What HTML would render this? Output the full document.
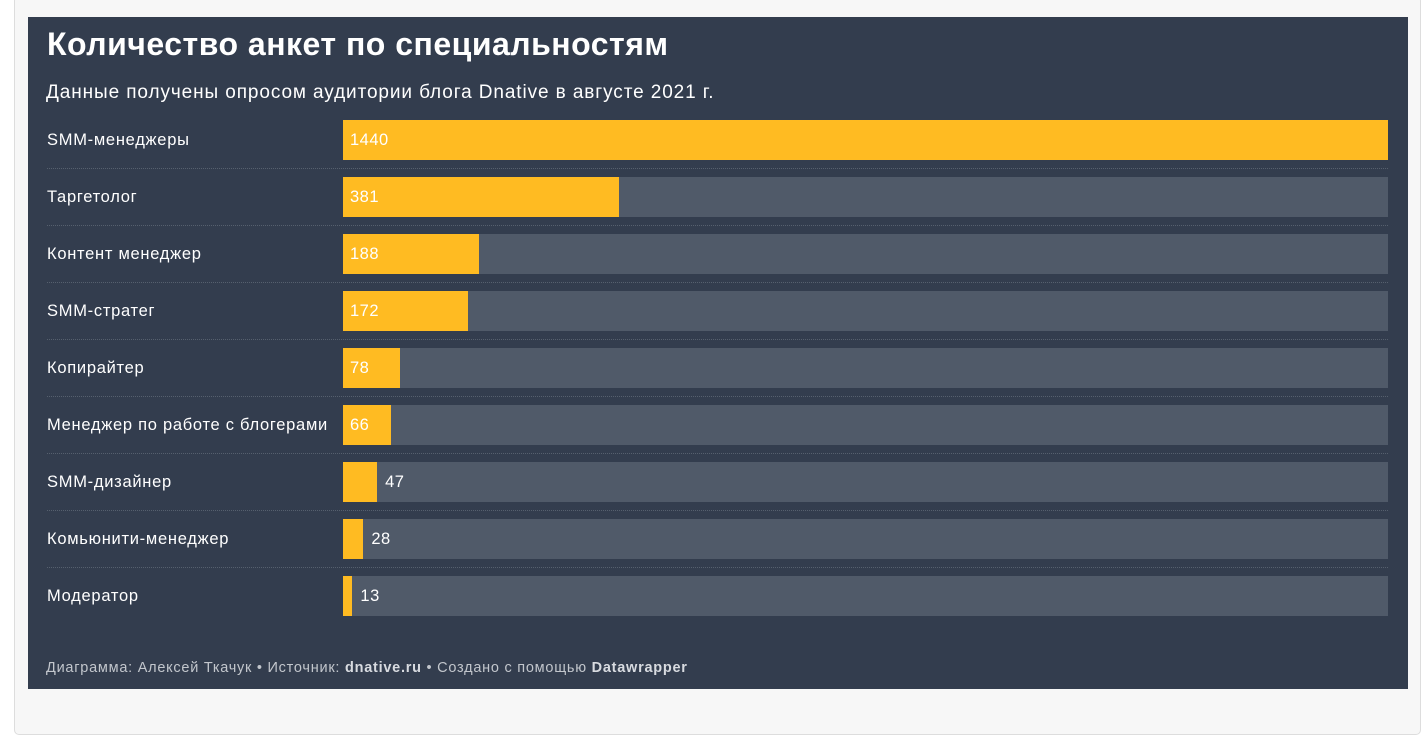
<!DOCTYPE html>
<html><head><meta charset="utf-8"><style>
body{margin:0;width:1428px;height:741px;background:#fff;font-family:"Liberation Sans",sans-serif;overflow:hidden;position:relative}
.outer{position:absolute;left:14px;top:-4px;width:1407px;height:739px;background:#f7f7f7;border:1px solid #ddd;border-radius:5px;box-sizing:border-box}
.panel{position:absolute;left:28px;top:17px;width:1380px;height:672px;background:#333d4e}
.title{position:absolute;left:19px;top:9px;font-size:32px;font-weight:bold;color:#fff;white-space:nowrap;letter-spacing:0.5px}
.sub{position:absolute;left:18px;top:65px;font-size:19px;color:#fff;white-space:nowrap;letter-spacing:0.9px}
.foot{position:absolute;left:18px;top:643px;font-size:14.5px;color:#c2c6cc;white-space:nowrap;letter-spacing:0.75px}
.foot b{color:#d8dbe0}
.lbl{position:absolute;left:19px;font-size:16.5px;color:#fff;white-space:nowrap;letter-spacing:0.72px}
.bg{position:absolute;background:#505a69}
.bar{position:absolute;background:#ffbb22}
.val{position:absolute;font-size:16.5px;color:#fff;letter-spacing:0.5px}
.sep{position:absolute;left:19px;width:1341px;border-top:1px dotted #56606e}
</style></head><body>
<div class="outer"></div>
<div class="panel" id="panel">
<div class="title">Количество анкет по специальностям</div>
<div class="sub">Данные получены опросом аудитории блога Dnative в августе 2021 г.</div>
<div class="foot">Диаграмма: Алексей Ткачук • Источник: <b>dnative.ru</b> • Создано с помощью <b>Datawrapper</b></div>
</div>
<script>
const categories=["SMM-менеджеры","Таргетолог","Контент менеджер","SMM-стратег","Копирайтер","Менеджер по работе с блогерами","SMM-дизайнер","Комьюнити-менеджер","Модератор"];
const values=[1440,381,188,172,78,66,47,28,13];
const panel=document.getElementById('panel');
const x0=315,W=1045,top0=103,pitch=57,bh=40;
const maxV=Math.max(...values);
function xs(v){return v/maxV*W;}
categories.forEach((c,i)=>{
  const y=top0+i*pitch;
  const l=document.createElement('div');l.className='lbl';l.style.top=(y+11)+'px';l.textContent=c;
  
  
  panel.appendChild(l);
  const bg=document.createElement('div');bg.className='bg';bg.style.cssText=`left:${x0}px;top:${y}px;width:${W}px;height:${bh}px`;
  
  
  panel.appendChild(bg);
  const w=xs(values[i]);
  const b=document.createElement('div');b.className='bar';b.style.cssText=`left:${x0}px;top:${y}px;width:${w}px;height:${bh}px`;
  
  
  panel.appendChild(b);
  const v=document.createElement('div');v.className='val';v.textContent=values[i];
  const inside=w>45;
  v.style.left=(inside?x0+7:x0+w+8)+'px';v.style.top=(y+11)+'px';
  
  
  panel.appendChild(v);
  if(i<categories.length-1){const s=document.createElement('div');s.className='sep';s.style.top=(y+bh+8)+'px';
  
  
  panel.appendChild(s);}
});
</script>
</body></html>
